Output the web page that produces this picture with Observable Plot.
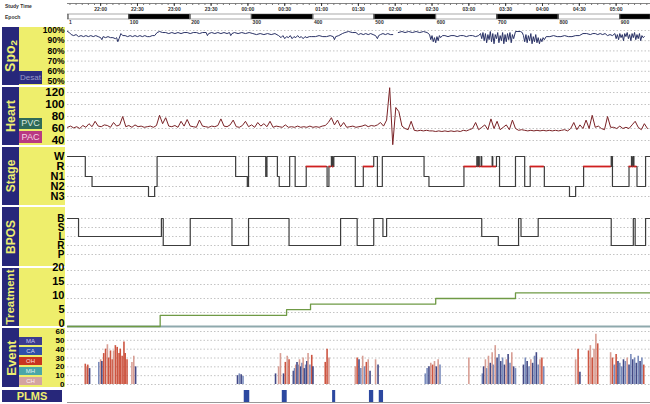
<!DOCTYPE html>
<html><head><meta charset="utf-8">
<script src="https://cdn.jsdelivr.net/npm/d3@7"></script>
<script src="https://cdn.jsdelivr.net/npm/@observablehq/plot@0.6"></script>
<style>
body{margin:0;background:#fff;font-family:"Liberation Sans",Arial,sans-serif;}
#chart{position:relative;width:650px;height:404px;overflow:hidden;background:#fff}
.abs{position:absolute}
.rot{position:absolute;left:50%;top:50%;transform:translate(-50%,-50%) rotate(-90deg);white-space:nowrap;color:#eeee70;font-weight:bold;line-height:1}
.rot sub{font-size:0.7em;vertical-align:-0.25em}
.sub{position:absolute;display:flex;align-items:center;justify-content:center;line-height:1}
.hdr{position:absolute;font-size:5px;font-weight:bold;color:#333}
</style></head><body><div id="chart"></div>
<script>
// ---------- data ----------
const timeLabels = ["22:00","22:30","23:00","23:30","00:00","00:30","01:00","01:30","02:00","02:30","03:00","03:30","04:00","04:30","05:00"];
const timeTickEpochs = [54,114,174,234,294,354,414,474,534,594,654,714,774,834,894];
const epochLabels = [1,100,200,300,400,500,600,700,800,900];
const epochEnd = 950;

const spo2Ticks = [100,90,80,70,60,50];
// [epoch, SpO2 %]
const spo2 = [[0,99],[3,98],[6,96],[10,95],[14,96],[18,94],[22,95],[26,94],[30,95],[34,94],[38,95],[42,94],[46,95],[50,94],[54,93],[56,91],[58,94],[62,93],[66,94],[70,93],[74,93],[78,92],[80,93],[82,89],[84,92],[87,97],[90,95],[94,95],[98,94],[102,95],[106,94],[110,95],[114,94],[118,95],[122,94],[126,95],[130,94],[134,94],[138,95],[142,95],[146,98],[150,99],[155,98],[160,98],[165,97],[170,98],[175,97],[180,98],[185,97],[190,98],[195,98],[200,97],[205,98],[210,98],[215,97],[220,98],[226,98],[228,95],[230,97],[235,98],[240,97],[245,98],[250,97],[255,98],[260,97],[264,98],[266,95],[268,97],[272,98],[278,97],[284,98],[290,97],[296,98],[302,97],[308,96],[314,97],[320,96],[326,97],[332,96],[338,97],[344,95],[348,93],[351,95],[354,92],[357,94],[360,93],[363,95],[366,92],[369,94],[372,93],[375,95],[378,93],[381,94],[384,92],[387,94],[390,93],[394,94],[398,94],[404,94],[410,95],[416,94],[422,94],[428,95],[433,94],[435,91],[437,94],[442,95],[448,97],[452,98],[458,99],[464,98],[470,98],[474,96],[478,97],[482,96],[486,97],[490,96],[494,97],[498,96],[502,95],[505,92],[507,95],[510,96],[514,97],[518,96],[522,97],[526,96],[530,96],[534,null],[539,98],[545,99],[550,98],[556,99],[562,98],[568,99],[574,98],[580,99],[586,98],[590,96],[592,91],[594,95],[596,89],[598,93],[600,88],[602,94],[604,90],[606,95],[608,93],[611,95],[615,95],[620,94],[625,95],[630,95],[635,94],[640,95],[645,95],[650,94],[655,95],[660,95],[665,94],[670,95],[673,97],[675,92],[677,98],[679,90],[681,97],[683,88],[685,96],[687,91],[689,99],[691,89],[693,97],[695,87],[697,96],[699,92],[701,98],[703,88],[705,95],[707,90],[709,98],[711,87],[713,96],[715,89],[717,97],[719,91],[721,98],[723,88],[725,96],[727,92],[730,99],[734,99],[738,99],[741,98],[743,95],[745,89],[747,96],[749,88],[751,95],[753,90],[755,97],[757,87],[759,94],[761,89],[763,96],[765,88],[767,93],[769,87],[771,92],[773,89],[775,93],[777,91],[780,94],[786,94],[792,95],[798,94],[804,94],[810,95],[816,94],[822,94],[828,95],[834,95],[840,97],[846,97],[852,96],[856,97],[860,97],[864,96],[868,97],[872,96],[876,97],[880,95],[884,96],[888,95],[892,97],[894,92],[896,96],[898,91],[900,97],[902,93],[904,96],[906,90],[908,97],[910,94],[912,98],[914,92],[916,96],[918,90],[920,97],[922,93],[924,98],[926,91],[928,96],[930,92],[932,97],[934,90],[936,95],[938,93],[940,94]];

const heartTicks = [120,100,80,60,40];
const heartStep = 5; // one reading every 5 epochs
const heartRate = [
62,64,61,63,60,65,62,68,63,72,
64,63,66,65,62,70,64,66,80,63,
65,62,66,63,64,62,63,64,62,65,
82,68,78,64,63,65,62,72,64,75,
64,63,62,74,64,63,62,64,63,65,
76,64,63,66,74,63,62,65,72,63,
66,62,70,64,68,63,72,62,64,63,
62,66,62,63,62,64,62,63,62,64,
62,63,62,64,65,70,78,66,74,63,
70,62,63,64,62,63,64,66,63,65,
64,66,70,64,74,128,33,95,88,64,
60,58,72,57,56,57,56,57,56,56,
55,56,55,56,55,56,55,56,55,57,
56,58,60,70,58,62,66,58,76,60,
72,58,62,66,58,74,60,57,58,57,
56,57,56,57,56,57,56,57,56,57,
56,57,58,56,60,70,58,66,60,74,
60,82,62,64,60,58,80,62,62,60,
64,60,62,60,66,72,62,58,68,60];

const stageLevels = ["W","R","N1","N2","N3"];
// [start epoch, stage]
const stages = [[0,"W"],[29,"N1"],[40,"N2"],[132,"N3"],[142,"N2"],[146,"W"],[274,"N1"],[293,"N2"],[295,"W"],[323,"N1"],[325,"W"],[342,"N1"],[345,"N2"],[362,"W"],[371,"N2"],[389,"R"],[423,"N2"],[426,"R"],[430,"W"],[432,"R"],[434,"W"],[469,"N2"],[482,"R"],[499,"W"],[505,"N2"],[513,"W"],[581,"N1"],[589,"N2"],[646,"R"],[667,"W"],[669,"R"],[670,"W"],[671,"R"],[674,"W"],[675,"R"],[692,"W"],[693,"R"],[699,"W"],[704,"N2"],[730,"W"],[745,"N2"],[754,"R"],[777,"N2"],[818,"N3"],[828,"N2"],[841,"R"],[886,"W"],[888,"N2"],[915,"R"],[919,"W"],[920,"R"],[922,"W"],[923,"R"],[928,"N2"],[942,"W"],[950,"W"]];

const bposLevels = ["B","S","L","R","P"];
const bpos = [[0,"B"],[18,"L"],[153,"B"],[156,"R"],[200,"B"],[268,"R"],[295,"B"],[361,"R"],[445,"B"],[472,"R"],[499,"B"],[514,"L"],[520,"B"],[675,"L"],[702,"R"],[735,"B"],[739,"L"],[767,"B"],[886,"R"],[922,"B"],[925,"R"],[942,"B"],[950,"B"]];

const treatTicks = [20,15,10,5,0];
const treatment = [[0,0],[151,4],[357,6],[396,8],[600,10],[730,12],[950,12]];

const eventTicks = [60,50,40,30,20,10,0];
const eventTypes = ["MA","CA","OH","MH","CH"];
// [epoch, value, type]
const events = [
[29,23,"OH"],[31,20,"CH"],[33,22,"OH"],[36,18,"MA"],
[51,25,"CA"],[54,28,"CH"],[56,26,"MA"],[59,35,"OH"],[62,40,"OH"],[65,45,"CH"],[67,30,"OH"],[70,38,"OH"],[73,28,"OH"],[75,38,"CH"],[78,44,"OH"],[81,42,"OH"],[84,35,"OH"],[86,40,"OH"],[89,32,"OH"],[92,48,"OH"],[94,35,"OH"],[97,28,"OH"],[105,25,"CH"],[108,32,"CH"],[111,20,"MA"],
[277,10,"MA"],[280,12,"CA"],[283,11,"MA"],[286,9,"CA"],
[339,12,"MA"],[344,20,"CH"],[347,35,"CH"],[352,12,"MA"],[355,25,"OH"],[358,32,"CH"],[361,28,"OH"],
[368,15,"MA"],[370,18,"CA"],[372,22,"CH"],[374,25,"MA"],[376,22,"CA"],[378,28,"CH"],[380,20,"MA"],[382,24,"CA"],[384,30,"CH"],[386,18,"MA"],[388,22,"CA"],[390,26,"MA"],[392,35,"CH"],[395,22,"CA"],[398,33,"OH"],[400,20,"MA"],
[420,25,"OH"],[423,40,"OH"],[426,30,"CH"],
[469,20,"CH"],[472,30,"OH"],[475,28,"MA"],[478,18,"CA"],[481,32,"CH"],[484,20,"CA"],[487,25,"OH"],[490,28,"CH"],[493,15,"MA"],
[502,28,"CH"],[506,22,"MA"],
[583,12,"CA"],[586,18,"CA"],[589,20,"MA"],[592,24,"CH"],[595,22,"OH"],[598,26,"CH"],[601,20,"MA"],[604,28,"CH"],[607,22,"CA"],
[654,30,"CH"],
[676,12,"CA"],[678,20,"MA"],[681,28,"CH"],[683,18,"CA"],[686,32,"CH"],[689,24,"MA"],[692,36,"CH"],[694,22,"CA"],[697,44,"CH"],[700,30,"MA"],[703,34,"CA"],[706,26,"MA"],[709,30,"CA"],[712,22,"MA"],[715,28,"CH"],[718,34,"MA"],[721,24,"CA"],[724,36,"CH"],[727,20,"MA"],[730,18,"CA"],
[743,22,"MA"],[746,30,"CA"],[749,26,"MA"],[752,20,"CA"],[755,28,"CH"],[758,24,"MA"],[761,32,"CA"],[764,36,"MA"],[767,22,"CA"],[770,28,"CH"],[773,30,"OH"],[776,20,"CA"],
[828,28,"CH"],[832,40,"OH"],[835,14,"MA"],
[849,38,"OH"],[852,44,"CH"],[855,30,"OH"],[858,40,"CH"],[861,57,"CH"],[864,46,"OH"],
[885,36,"CH"],[888,30,"OH"],[891,22,"CA"],[894,34,"OH"],[897,26,"MA"],[900,24,"CA"],[903,20,"CA"],[906,28,"MA"],[909,26,"CA"],[912,30,"CH"],[915,22,"MA"],[918,34,"CA"],[921,28,"MA"],[924,30,"CA"],[927,24,"MA"],[930,32,"CA"],[933,26,"MA"],[936,30,"CA"],[939,22,"OH"]];

// [start epoch, end epoch]
const plms = [[288,297],[350,358],[432,437],[492,499],[508,515]];

// ---------- styles / layout ----------
const NAVY = "#27277a", YELLOW = "#eeee6c";
const eventColors = ["#2e3478","#6b80b5","#c8432c","#5aa3a8","#d49488"];
const FONT = "'Liberation Sans', Arial, sans-serif";
const chart = document.getElementById("chart");

function box(left, top, w, h, bg) {
  const d = document.createElement("div");
  d.className = "abs";
  Object.assign(d.style, {left: left+"px", top: top+"px", width: w+"px", height: h+"px", background: bg});
  chart.appendChild(d);
  return d;
}
const panels = [
  {label: "Spo<sub>2</sub>", top: 27, h: 58, fs: 14},
  {label: "Heart", top: 87, h: 58, fs: 12.5},
  {label: "Stage", top: 147, h: 58, fs: 12},
  {label: "BPOS", top: 207, h: 59, fs: 12},
  {label: "Treatment", top: 268, h: 58, fs: 11.5},
  {label: "Event", top: 328, h: 59, fs: 13}
];
for (const p of panels) {
  const n = box(2, p.top, 17, p.h, NAVY);
  const s = document.createElement("span");
  s.className = "rot"; s.style.fontSize = p.fs + "px"; s.innerHTML = p.label;
  n.appendChild(s);
  box(19, p.top, 46, p.h, YELLOW);
}
const subs = [
  {t: "Desat", top: 71, h: 13, bg: "#2c2c80", c: "#9a9ac8", fs: 8},
  {t: "PVC", top: 118, h: 11, bg: "#2f6a58", c: "#d8e8e0", fs: 9},
  {t: "PAC", top: 131, h: 12, bg: "#b83a82", c: "#f6d6e6", fs: 9},
  {t: "MA", top: 337, h: 8, bg: "#3b3b8f", c: "#c8c8f0", fs: 6},
  {t: "CA", top: 347, h: 8, bg: "#3050a8", c: "#dde", fs: 6},
  {t: "OH", top: 357, h: 8, bg: "#c83420", c: "#fdd", fs: 6},
  {t: "MH", top: 367, h: 8, bg: "#4aa6a8", c: "#e0f4f4", fs: 6},
  {t: "CH", top: 377, h: 8, bg: "#d4a4a0", c: "#fff0f0", fs: 6}
];
for (const s of subs) {
  const d = box(19, s.top, 23, s.h, s.bg);
  d.className = "sub";
  Object.assign(d.style, {color: s.c, fontSize: s.fs + "px"});
  d.textContent = s.t;
}
const pl = box(2, 390, 60, 12, NAVY);
pl.className = "sub";
Object.assign(pl.style, {color: "#eeee70", fontSize: "11px", fontWeight: "bold"});
pl.textContent = "PLMS";

const h1 = document.createElement("div"); h1.className = "hdr"; h1.style.left = "5px"; h1.style.top = "3px"; h1.textContent = "Study Time"; chart.appendChild(h1);
const h2 = document.createElement("div"); h2.className = "hdr"; h2.style.left = "5px"; h2.style.top = "14px"; h2.textContent = "Epoch"; chart.appendChild(h2);

function place(svg, top) {
  const d = document.createElement("div");
  d.className = "abs";
  d.style.left = "0px"; d.style.top = top + "px";
  d.appendChild(svg);
  chart.appendChild(d);
}
const X = {domain: [0, epochEnd], axis: null};
const baseStyle = fs => ({fontSize: fs + "px", fontWeight: "bold", fontFamily: FONT, background: "transparent", color: "#000", overflow: "visible"});
const grid = (vals) => Plot.ruleY(vals, {y: d => d, stroke: "#b5b5b5", strokeDasharray: "1.5,2", strokeWidth: 0.8});

function row(top, height, y, fs, marks) {
  place(Plot.plot({
    width: 650, height, marginLeft: 67, marginRight: 0, marginTop: 0, marginBottom: 0,
    x: X, y: {...y, tickSize: 0, tickPadding: 3, label: null},
    style: baseStyle(fs), marks
  }), top);
}

// ---------- header ----------
const minorTicks = d3.range(4, epochEnd, 10);
const timeMap = new Map(timeTickEpochs.map((e, i) => [e, timeLabels[i]]));
place(Plot.plot({
  width: 650, height: 12, marginLeft: 67, marginRight: 0, marginTop: 3, marginBottom: 9,
  x: X, y: {domain: [0, 1], axis: null},
  style: {...baseStyle(5), color: "#333"},
  marks: [
    Plot.ruleY([0], {stroke: "#666", strokeWidth: 0.8}),
    Plot.axisX({ticks: minorTicks, tickSize: 2, tickFormat: () => "", anchor: "bottom", stroke: "#777"}),
    Plot.axisX({ticks: timeTickEpochs, tickSize: 3, tickPadding: 1, tickFormat: d => timeMap.get(d), anchor: "bottom", fontSize: 5})
  ]
}), 0);
const epochSegs = epochLabels.map((e, i) => ({x1: e, x2: i + 1 < epochLabels.length ? epochLabels[i + 1] : epochEnd, k: i % 2}));
place(Plot.plot({
  width: 650, height: 13, marginLeft: 67, marginRight: 0, marginTop: 2, marginBottom: 6,
  x: X, style: {...baseStyle(5), color: "#333"},
  marks: [
    Plot.rectX(epochSegs, {x1: "x1", x2: "x2", fill: d => d.k ? "#000" : "#fff", stroke: "#555", strokeWidth: 0.5}),
    Plot.tickX(epochLabels, {x: d => d, stroke: "#555"}),
    Plot.text(epochLabels, {x: d => d, text: d => String(d), frameAnchor: "bottom", dy: 4, dx: 1, textAnchor: "start", fontSize: 5, fill: "#333"})
  ]
}), 12);

// ---------- SpO2 ----------
row(27, 58, {domain: [50, 100], range: [54, 3], ticks: spo2Ticks, tickFormat: d => d + "%"}, 8.5, [
  grid(spo2Ticks),
  Plot.line(spo2, {x: d => d[0], y: d => d[1], stroke: "#2a3266", strokeWidth: 1})
]);

// ---------- Heart ----------
row(87, 58, {domain: [40, 120], range: [53, 5], ticks: heartTicks}, 11.5, [
  grid(heartTicks),
  Plot.line(heartRate, {x: (d, i) => i * heartStep, y: d => d, stroke: "#7a2226", strokeWidth: 1})
]);

// ---------- Stage ----------
const rSegs = stages.map((d, i) => ({x1: d[0], x2: i + 1 < stages.length ? stages[i + 1][0] : d[0], s: d[1]})).filter(d => d.s === "R");
row(146, 60, {type: "point", domain: stageLevels, range: [4, 56]}, 11, [
  grid(stageLevels),
  Plot.line(stages, {x: d => d[0], y: d => d[1], curve: "step-after", stroke: "#3c3c3c", strokeWidth: 1.2}),
  Plot.ruleY(rSegs, {x1: "x1", x2: "x2", y: "s", stroke: "#d01f1f", strokeWidth: 1.8})
]);

// ---------- BPOS ----------
row(207, 61, {type: "point", domain: bposLevels, range: [6, 52]}, 10, [
  grid(bposLevels),
  Plot.line(bpos, {x: d => d[0], y: d => d[1], curve: "step-after", stroke: "#3c3c3c", strokeWidth: 1.2})
]);

// ---------- Treatment ----------
row(268, 59, {domain: [0, 20], range: [58, 2], ticks: treatTicks, axis: null}, 11, [
  grid(treatTicks.filter(d => d > 0)),
  Plot.axisY({ticks: treatTicks, tickSize: 0, tickPadding: 3, label: null, dy: -3}),
  Plot.ruleY([0], {stroke: "#8fa9ad", strokeWidth: 2}),
  Plot.line(treatment, {x: d => d[0], y: d => d[1], curve: "step-after", stroke: "#6f9a45", strokeWidth: 1.3})
]);

// ---------- Event ----------
place(Plot.plot({
  width: 650, height: 60, marginLeft: 67, marginRight: 0, marginTop: 0, marginBottom: 0,
  x: X, y: {domain: [0, 60], range: [56, 3], ticks: eventTicks, tickSize: 0, tickPadding: 3, label: null},
  color: {domain: eventTypes, range: eventColors},
  style: baseStyle(8),
  marks: [
    grid(eventTicks),
    Plot.ruleX(events, {x: d => d[0], y1: 0, y2: d => d[1], stroke: d => d[2], strokeWidth: 1.6, strokeOpacity: 0.9})
  ]
}), 328);

// ---------- PLMS ----------
place(Plot.plot({
  width: 650, height: 15, marginLeft: 67, marginRight: 0, marginTop: 1, marginBottom: 2,
  x: X, y: {domain: [0, 1], axis: null}, style: baseStyle(9),
  marks: [
    Plot.rectX(plms, {x1: d => d[0], x2: d => d[1], fill: "#2c48a0"}),
    Plot.ruleY([0], {stroke: "#999", strokeWidth: 1.2})
  ]
}), 389);
</script></body></html>
